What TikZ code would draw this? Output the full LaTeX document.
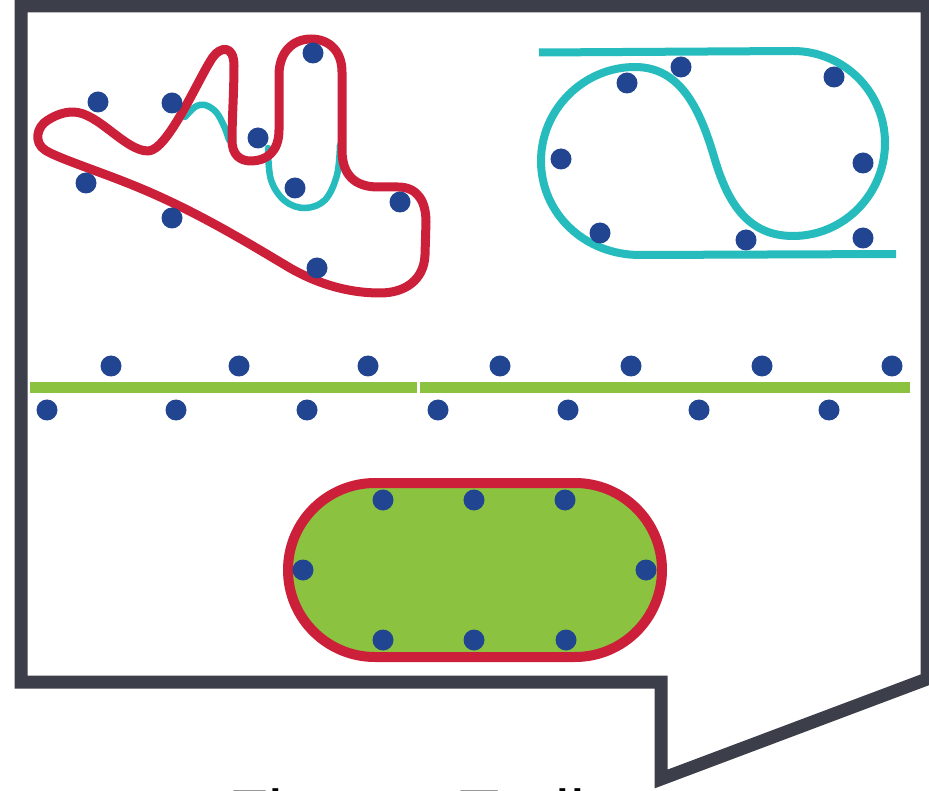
\documentclass[tikz,border=0pt]{standalone}
\usepackage{fontspec}
\setmainfont{Liberation Sans}
\definecolor{framegray}{RGB}{60,62,74}
\definecolor{trackred}{RGB}{204,32,58}
\definecolor{trackcyan}{RGB}{38,188,190}
\definecolor{grass}{RGB}{139,195,64}
\definecolor{marker}{RGB}{33,69,145}
\begin{document}
\begin{tikzpicture}[x=1pt,y=-1pt,
  dot/.style={fill=marker},
  redtrack/.style={draw=trackred,line width=9pt,line join=round},
  cyantrack/.style={draw=trackcyan,line width=6.5pt,line cap=round},
  border/.style={draw=framegray,line width=13pt,line join=miter}]
\useasboundingbox (0,0) rectangle (929,791);
\clip (0,0) rectangle (929,791);
\fill[white] (0,0) rectangle (929,791);

% speech-bubble frame
\draw[border] (927,679) -- (927,6) -- (21,6) -- (21,682) -- (661,682) -- (661,779) -- cycle;

% caption below the frame
\node[anchor=base west,inner sep=0pt,font=\fontsize{66}{70}\selectfont] (caption) at (228,836) {Fitness Trail};

% winding course: cyan short cuts under the red loop
\draw[cyantrack] plot[smooth,tension=0.6] coordinates {(185,117) (195,107) (205,105) (216,112) (224,126) (229,140)};
\draw[cyantrack] plot[smooth,tension=0.6] coordinates {(268,148) (271,180) (285,201) (305,208) (325,200) (337,175) (340,145)};
\draw[redtrack] (73,112)
  .. controls (98,112) and (125,151) .. (148,151)
  .. controls (168,151) and (200,75) .. (213,57)
  .. controls (220,47) and (234,44) .. (234,66)
  .. controls (234,90) and (232,120) .. (232,140)
  .. controls (232,155) and (240,161) .. (251,161)
  .. controls (266,161) and (279,152) .. (279,130)
  -- (279,75)
  .. controls (279,52) and (293,39) .. (311,39)
  .. controls (330,39) and (342,52) .. (342,72)
  -- (342,150)
  .. controls (342,176) and (356,187) .. (378,187)
  -- (398,187)
  .. controls (418,187) and (426,202) .. (426,222)
  -- (425,255)
  .. controls (424,280) and (405,293) .. (380,293)
  .. controls (350,293) and (320,285) .. (290,268)
  .. controls (240,238) and (190,208) .. (130,184)
  .. controls (95,170) and (55,157) .. (45,150)
  .. controls (34,143) and (36,127) .. (48,120)
  .. controls (56,115) and (64,112) .. (73,112) -- cycle;
\foreach \p in {(98,102),(172,103),(313,53),(258,138),(295,188),(400,202),(86,183),(172,218),(317,268)}
  \fill[dot] \p circle (10.5pt);

% double-loop course
\draw[draw=trackcyan,line width=8pt]
  (539,52.5) -- (793,51)
  .. controls (844,51) and (885,92) .. (885,143)
  .. controls (885,194) and (844,236) .. (793,236)
  .. controls (748,236) and (728,203) .. (715,160)
  .. controls (701,112) and (682,67) .. (635,67)
  .. controls (584,67) and (541,109) .. (541,161)
  .. controls (541,213) and (584,255) .. (640,255)
  -- (896,254);
\foreach \p in {(681,67),(627,83),(834,77),(561,159),(863,163),(600,233),(746,240),(863,238)}
  \fill[dot] \p circle (10.5pt);

% straight course
\fill[grass] (30,382) rectangle (417,393);
\fill[grass] (420,382) rectangle (910,393);
\foreach \x in {111,239,368,500,631,762,892}
  \fill[dot] (\x,366) circle (10.5pt);
\foreach \x in {47,176,307,438,568,699,829}
  \fill[dot] (\x,410) circle (10.5pt);

% oval course
\draw[draw=trackred,line width=10pt,fill=grass,rounded corners=87pt] (288,483) rectangle (662,657);
\foreach \p in {(383,500),(474,500),(565,500),(303,570),(646,570),(383,640),(474,640),(566,640)}
  \fill[dot] \p circle (10.5pt);
\end{tikzpicture}
\end{document}
